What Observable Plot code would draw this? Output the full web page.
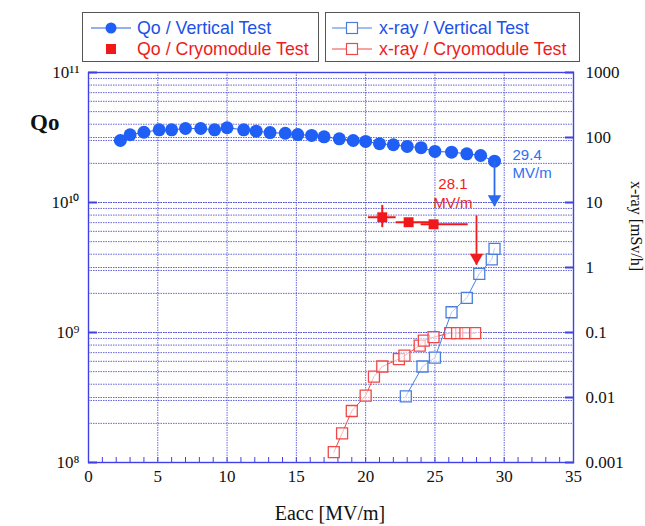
<!DOCTYPE html>
<html><head><meta charset="utf-8">
<script src="https://cdn.jsdelivr.net/npm/d3@7"></script>
<script src="https://cdn.jsdelivr.net/npm/@observablehq/plot@0.6"></script>
<style>
body{margin:0;background:#fff;}
#wrap{position:relative;width:645px;height:526px;overflow:hidden;background:#fff;}
#chart{position:absolute;left:0;top:0;}
.lab{position:absolute;font-family:"Liberation Serif","Times New Roman",serif;color:#111;white-space:nowrap;line-height:1;}
.legend{position:absolute;top:12px;height:50px;border:1px solid #555;box-sizing:border-box;background:#fff;}
.row{position:absolute;height:20px;font-family:"Liberation Sans",Arial,sans-serif;font-size:17.8px;line-height:20px;white-space:nowrap;}
.row svg{position:absolute;left:0;top:0;}
.row span{position:absolute;top:0;}
</style></head><body>
<div id="wrap">
  <div id="chart"></div>
  <div class="legend" style="left:82px;width:237px;">
    <div class="row" style="left:8px;top:5px;width:225px;">
      <svg width="42" height="20"><line x1="0" y1="10" x2="40" y2="10" stroke="#2a62ec" stroke-width="1.2"/><circle cx="20" cy="10" r="5.5" fill="#1f5ff5"/></svg>
      <span style="left:46px;color:#2050e8;">Qo / Vertical Test</span>
    </div>
    <div class="row" style="left:8px;top:26px;width:225px;">
      <svg width="42" height="20"><rect x="15" y="5" width="10" height="10" fill="#f01818"/></svg>
      <span style="left:46px;color:#ee1c1c;">Qo / Cryomodule Test</span>
    </div>
  </div>
  <div class="legend" style="left:325px;width:255px;">
    <div class="row" style="left:6px;top:5px;width:245px;">
      <svg width="42" height="20"><line x1="0" y1="10" x2="40" y2="10" stroke="#4a7fe0" stroke-width="1.2"/><rect x="14.5" y="4.5" width="11" height="11" fill="#fff" stroke="#4a7fe0" stroke-width="1.2"/></svg>
      <span style="left:47px;color:#2050e8;">x-ray / Vertical Test</span>
    </div>
    <div class="row" style="left:6px;top:26px;width:245px;">
      <svg width="42" height="20"><line x1="0" y1="10" x2="40" y2="10" stroke="#f04848" stroke-width="1.2"/><rect x="14.5" y="4.5" width="11" height="11" fill="#fff" stroke="#f04848" stroke-width="1.2"/></svg>
      <span style="left:47px;color:#ee1c1c;">x-ray / Cryomodule Test</span>
    </div>
  </div>
  <div class="lab" style="left:30px;top:111px;font-size:23px;font-weight:bold;">Qo</div>
  <div class="lab" style="left:330px;top:503px;font-size:20px;transform:translateX(-50%);">Eacc [MV/m]</div>
  <div class="lab" style="left:636px;top:226px;font-size:16px;transform:translate(-50%,-50%) rotate(90deg);">x-ray [mSv/h]</div>
</div>
<script>
// ---- data ----
const qoVertE = [2.3,3.0,4.0,5.1,6.0,7.0,8.1,9.1,10.0,11.2,12.1,13.1,14.2,15.1,16.1,17.0,18.1,19.1,20.0,21.0,22.0,23.0,24.0,25.0,26.2,27.3,28.3,29.3];
const qoVertQ = [3.0e10,3.32e10,3.47e10,3.62e10,3.62e10,3.71e10,3.71e10,3.62e10,3.76e10,3.62e10,3.54e10,3.45e10,3.41e10,3.33e10,3.28e10,3.2e10,3.09e10,3.0e10,2.95e10,2.83e10,2.78e10,2.70e10,2.64e10,2.47e10,2.44e10,2.37e10,2.30e10,2.08e10];

const qoCryoE = [21.2,23.1,24.9];
const qoCryoQ = [7.7e9,7.05e9,6.8e9];
const qoCryoELo = [20.2,22.2,24.0];
const qoCryoEHi = [22.2,24.8,27.4];
const qoCryoQLo = [6.4e9,null,null];
const qoCryoQHi = [9.5e9,null,null];

const xrVertE = [22.9,24.1,25.0,26.2,27.3,28.2,29.1,29.3];
const xrVertV = [0.0104,0.030,0.041,0.205,0.342,0.80,1.33,1.94];

const xrCryoE = [17.7,18.3,19.0,20.0,20.6,21.2,22.4,22.8,23.9,24.2,24.9,26.1,26.6,27.2,27.9];
const xrCryoV = [0.00144,0.0028,0.0062,0.0107,0.021,0.030,0.039,0.044,0.063,0.075,0.085,0.098,0.098,0.098,0.098];

const arrowE = [29.3, 28.0];
const arrowFrom = [2.08e10, 7.9e9];
const arrowTo = [9.3e9, 3.3e9];

const noteText = ["29.4\nMV/m", "28.1\nMV/m"];
const noteE = [30.6, 26.3];
const noteQ = [2.01e10, 1.19e10];

const xTicks = [0,5,10,15,20,25,30,35];
const leftDecades = [1e8,1e9,1e10,1e11];
const rightDecades = [0.001,0.01,0.1,1,10,100,1000];

// ---- helpers ----
const toQ = v => 1e8 * Math.sqrt(v / 0.001);   // right axis (6 decades) onto left axis (3 decades)
const fromQ = q => 0.001 * Math.pow(q / 1e8, 2);
const supMap = {"0":"⁰","1":"¹","2":"²","3":"³","4":"⁴","5":"⁵","6":"⁶","7":"⁷","8":"⁸","9":"⁹"};
const supFmt = d => "10" + String(Math.round(Math.log10(d))).split("").map(c => supMap[c]).join("");

const leftGrid = [];
for (let e = 8; e <= 10; e++) for (let m = 1; m <= 9; m++) leftGrid.push(m * Math.pow(10, e));
leftGrid.push(1e11);
const xMinor = d3.range(0, 36, 1);

const qoVert = qoVertE.map((E, i) => ({E, Q: qoVertQ[i]}));
const qoCryo = qoCryoE.map((E, i) => ({E, Q: qoCryoQ[i], lo: qoCryoELo[i], hi: qoCryoEHi[i], qlo: qoCryoQLo[i], qhi: qoCryoQHi[i]}));
const xrVert = xrVertE.map((E, i) => ({E, Q: toQ(xrVertV[i])}));
const xrCryo = xrCryoE.map((E, i) => ({E, Q: toQ(xrCryoV[i])}));
const arrows = arrowE.map((E, i) => ({E, from: arrowFrom[i], to: arrowTo[i], c: i === 0 ? "#2a6af0" : "#ee1c1c"}));
const notes = noteText.map((t, i) => ({t, E: noteE[i], Q: noteQ[i]}));

const gridStroke = "#4a4ad6";
const axisStroke = "#4040e6";

const chart = Plot.plot({
  width: 645, height: 526,
  marginLeft: 88, marginRight: 72, marginTop: 72, marginBottom: 64,
  x: {domain: [0, 35]},
  y: {type: "log", domain: [1e8, 1e11]},
  style: {fontFamily: "'Liberation Serif', 'Times New Roman', serif", fontSize: "17px", color: "#111", background: "transparent"},
  marks: [
    Plot.ruleY(leftGrid.concat(rightDecades.map(toQ)), {stroke: gridStroke, strokeOpacity: 0.85, strokeDasharray: "1.5,1"}),
    Plot.ruleX(xTicks.slice(1, -1), {stroke: gridStroke, strokeOpacity: 0.85, strokeDasharray: "1.5,1"}),
    Plot.frame({stroke: axisStroke, strokeWidth: 1.4}),
    Plot.axisX({ticks: xTicks, tickSize: 0, tickPadding: 7, tickFormat: d => String(d), label: null}),
    Plot.axisX({ticks: xMinor, tickSize: -5, text: null, stroke: axisStroke, label: null}),
    Plot.axisY({anchor: "left", ticks: leftDecades, tickSize: 0, tickPadding: 9, tickFormat: supFmt, label: null}),
    Plot.axisY({anchor: "left", ticks: leftDecades, tickSize: -9, text: null, stroke: axisStroke, strokeWidth: 2, label: null}),
    Plot.axisY({anchor: "right", ticks: rightDecades.map(toQ), tickSize: 0, tickPadding: 12, tickFormat: q => String(+fromQ(q).toPrecision(3)), label: null}),
    Plot.axisY({anchor: "right", ticks: rightDecades.map(toQ), tickSize: -9, text: null, stroke: axisStroke, strokeWidth: 2, label: null}),

    // x-ray data (right axis)
    Plot.line(xrCryo, {x: "E", y: "Q", stroke: "#f04848", strokeWidth: 1}),
    Plot.dot(xrCryo, {x: "E", y: "Q", symbol: "square", r: 6.2, fill: "white", fillOpacity: 0.6, stroke: "#f04848", strokeWidth: 1.3}),
    Plot.line(xrVert, {x: "E", y: "Q", stroke: "#4a7fe0", strokeWidth: 1}),
    Plot.dot(xrVert, {x: "E", y: "Q", symbol: "square", r: 6.2, fill: "white", fillOpacity: 0.6, stroke: "#4a7fe0", strokeWidth: 1.3}),

    // Qo vertical test
    Plot.line(qoVert, {x: "E", y: "Q", stroke: "#2a62ec", strokeWidth: 1}),
    Plot.dot(qoVert, {x: "E", y: "Q", r: 6.5, fill: "#1f5ff5"}),

    // Qo cryomodule test with error bars
    Plot.ruleY(qoCryo, {y: "Q", x1: "lo", x2: "hi", stroke: "#f01818", strokeWidth: 2}),
    Plot.ruleX(qoCryo.filter(d => d.qlo != null), {x: "E", y1: "qlo", y2: "qhi", stroke: "#f01818", strokeWidth: 2}),
    Plot.dot(qoCryo, {x: "E", y: "Q", symbol: "square", r: 5.6, fill: "#f01818"}),

    // arrows
    Plot.ruleX(arrows, {x: "E", y1: "from", y2: "to", stroke: "c", strokeWidth: 1.8}),
    Plot.dot(arrows, {x: "E", y: "to", symbol: "triangle", r: 5, rotate: 180, fill: "c", dy: -7.5}),

    // annotations
    Plot.text(notes.slice(0, 1), {x: "E", y: "Q", text: "t", textAnchor: "start", fill: "#2f6ff0", fontSize: 15, lineHeight: 1.25, fontFamily: "'Liberation Sans', Arial, sans-serif"}),
    Plot.text(notes.slice(1), {x: "E", y: "Q", text: "t", textAnchor: "middle", fill: "#ee1c1c", fontSize: 15, lineHeight: 1.25, fontFamily: "'Liberation Sans', Arial, sans-serif"})
  ]
});
document.getElementById("chart").appendChild(chart);
</script>
</body></html>
